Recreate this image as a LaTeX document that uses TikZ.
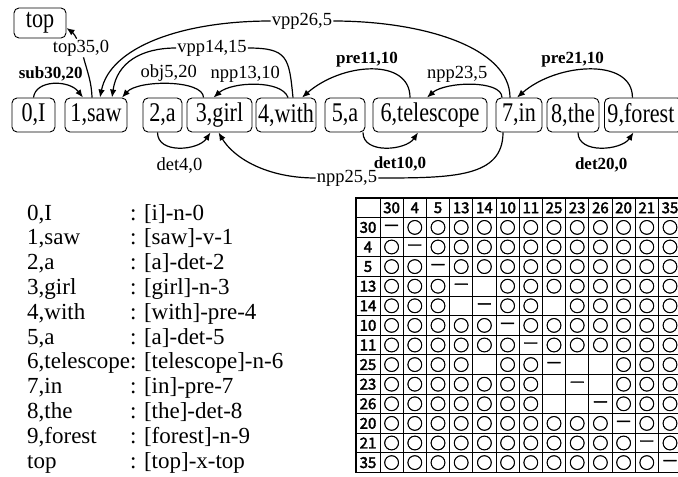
\documentclass[tikz,border=0pt]{standalone}
\usepackage{fontspec}
\setmainfont{Liberation Serif}
\newfontfamily\wordfont{Liberation Serif}[FakeStretch=0.82]
\newfontfamily\tabfont{Noto Sans CJK JP}[FakeBold=2.5]
\usetikzlibrary{arrows.meta, positioning}
\tikzstyle{word}=[draw, rectangle, rounded corners=5pt, line width=0.9pt, minimum height=34pt, inner xsep=1pt, inner ysep=0pt, align=center, font=\wordfont\fontsize{27}{30}\selectfont]
\tikzstyle{rel}=[inner sep=1pt, font=\fontsize{18.5}{20}\selectfont]
\tikzstyle{relb}=[rel, font=\bfseries\fontsize{17}{20}\selectfont]
\tikzstyle{dep}=[line width=1.2pt, -{Latex[length=8pt,width=6.5pt]}]
\tikzstyle{cell}=[inner sep=0pt, font=\tabfont\fontsize{16}{16}\selectfont]
\tikzstyle{num}=[inner sep=0pt, font=\tabfont\fontsize{15}{15}\selectfont]

\begin{document}
\begin{tikzpicture}[x=1pt, y=1pt]
    \useasboundingbox (0,0) rectangle (678,-477);

    % words of the sentence
    \node[word, text width=50pt, minimum height=30pt] (top) at (40,-23) {top};
    \node[word, text width=41pt] (w0) at (33.5,-115) {0,I};
    \node[word, text width=60pt] (w1) at (96,-115) {1,saw};
    \node[word, text width=37pt] (w2) at (162.5,-115) {2,a};
    \node[word, text width=63pt] (w3) at (219.5,-115) {3,girl};
    \node[word, text width=58pt] (w4) at (286,-115) {4,with};
    \node[word, text width=38pt] (w5) at (345,-115) {5,a};
    \node[word, text width=112pt] (w6) at (430,-115) {6,telescope};
    \node[word, text width=44pt] (w7) at (519,-115) {7,in};
    \node[word, text width=50pt] (w8) at (573,-115) {8,the};
    \node[word, text width=72pt, inner xsep=3pt, align=left, anchor=west] (w9) at (604,-115) {9,forest};

    % labels that sit on their arcs
    \node[rel] (l35) at (81,-48) {top35,0};
    \node[rel] (l14) at (212,-48) {vpp14,15};
    \node[rel] (l26) at (302,-21) {vpp26,5};
    \node[rel] (l25) at (347,-178) {npp25,5};

    % arcs above the words
    \draw[dep] (w0.north) .. controls +(2,18) and +(-14,18) .. ([xshift=-13pt]w1.north)
        node[relb, midway, above=1pt, xshift=-3pt] (l30) {sub30,20};
    \draw[dep] ([xshift=-16pt]w3.north) .. controls +(0,18) and +(16,18) .. ([xshift=26pt]w1.north)
        node[rel, midway, above=1pt] (l5) {obj5,20};
    \draw[dep] ([xshift=2pt]w4.north) .. controls +(-6,18) and +(18,16) .. ([xshift=-6pt]w3.north)
        node[rel, midway, above=1pt, xshift=-10pt] (l13) {npp13,10};
    \draw[dep] ([xshift=-20pt]w6.north) .. controls +(0,40) and +(40,35) .. ([xshift=16pt]w4.north)
        node[relb, midway, above=1pt, xshift=-4pt] (l11) {pre11,10};
    \draw[dep] ([xshift=-17pt]w7.north) .. controls +(0,18) and +(18,16) .. ([xshift=-3pt]w6.north)
        node[rel, midway, above=1pt, xshift=-14pt] (l23) {npp23,5};
    \draw[dep] ([xshift=-11pt]w9.north) .. controls +(0,40) and +(40,35) .. ([xshift=-2pt]w7.north)
        node[relb, midway, above=1pt, xshift=-17pt] (l21) {pre21,10};

    \draw[line width=1.2pt] ([xshift=-4pt]w1.north) to[out=92,in=-75] (l35);
    \draw[dep] (l35) to[out=115,in=-35] ([yshift=-5pt]top.east);
    \draw[line width=1.2pt] ([xshift=7pt]w4.north) .. controls +(-4,40) and +(40,0) .. (l14.east);
    \draw[dep] (l14.west) .. controls +(-35,0) and +(5,35) .. ([xshift=16pt]w1.north);
    \draw[line width=1.2pt] ([xshift=-9pt]w7.north) .. controls +(0,50) and +(90,0) .. (l26.east);
    \draw[dep] (l26.west) .. controls +(-90,0) and +(10,50) .. ([xshift=4pt]w1.north);

    % arcs below the words
    \draw[dep] ([xshift=-5pt]w2.south) .. controls +(0,-22) and +(-12,-18) .. ([xshift=-9pt]w3.south)
        node[rel, midway, below=9pt] (l4) {det4,0};
    \draw[dep] ([xshift=18pt]w5.south) .. controls +(0,-22) and +(-12,-18) .. ([xshift=-12pt]w6.south)
        node[relb, midway, below=8pt, xshift=14pt] (l10) {det10,0};
    \draw[dep] ([xshift=5pt]w8.south) .. controls +(0,-22) and +(-12,-18) .. ([xshift=-10pt]w9.south)
        node[relb, midway, below=9pt] (l20) {det20,0};
    \draw[line width=1.2pt] ([xshift=-16pt]w7.south) .. controls +(0,-45) and +(75,0) .. (l25.east);
    \draw[dep] (l25.west) .. controls +(-50,0) and +(15,-25) .. ([xshift=-1pt]w3.south);

    % list of the words
    \node[anchor=base west, inner sep=0pt, font=\fontsize{23}{24.8}\selectfont] (legend) at (27,-220) {%
        \begin{tabular}[t]{@{}l@{}l@{}}
        0,I & : [i]-n-0\\
        1,saw & : [saw]-v-1\\
        2,a & : [a]-det-2\\
        3,girl & : [girl]-n-3\\
        4,with & : [with]-pre-4\\
        5,a & : [a]-det-5\\
        6,telescope & : [telescope]-n-6\\
        7,in & : [in]-pre-7\\
        8,the & : [the]-det-8\\
        9,forest & : [forest]-n-9\\
        top & : [top]-x-top
        \end{tabular}};

    % table of the arcs that may stand together
    \foreach \r in {1,...,13}
        \draw[line width=1pt] (356,-198-\r*19.6) -- (681.6,-198-\r*19.6);
    \foreach \c in {0,...,12}
        \draw[line width=1pt] (380+\c*23.2,-198) -- (380+\c*23.2,-472.4);
    \draw[line width=1.8pt] (356,-198) rectangle (681.6,-472.4);
    \foreach \h [count=\i] in {30,4,5,13,14,10,11,25,23,26,20,21,35}
        \node[num] (h\h) at (368.4+\i*23.2,-207.8) {\h};
    \foreach \h/\cells [count=\j] in {
        30/{—,○,○,○,○,○,○,○,○,○,○,○,○},
        4/{○,—,○,○,○,○,○,○,○,○,○,○,○},
        5/{○,○,—,○,○,○,○,○,○,○,○,○,○},
        13/{○,○,○,—,,○,○,○,○,○,○,○,○},
        14/{○,○,○,,—,○,○,,○,○,○,○,○},
        10/{○,○,○,○,○,—,○,○,○,○,○,○,○},
        11/{○,○,○,○,○,○,—,○,○,○,○,○,○},
        25/{○,○,○,○,,○,○,—,,,○,○,○},
        23/{○,○,○,○,○,○,○,,—,,○,○,○},
        26/{○,○,○,○,○,○,○,,,—,○,○,○},
        20/{○,○,○,○,○,○,○,○,○,○,—,○,○},
        21/{○,○,○,○,○,○,○,○,○,○,○,—,○},
        35/{○,○,○,○,○,○,○,○,○,○,○,○,—}} {
        \node[num] (r\h) at (368,-207.8-\j*19.6) {\h};
        \foreach \c [count=\i] in \cells
            \node[cell] (c\h-\i) at (368.4+\i*23.2,-207.8-\j*19.6) {\c};
    }
\end{tikzpicture}
\end{document}
